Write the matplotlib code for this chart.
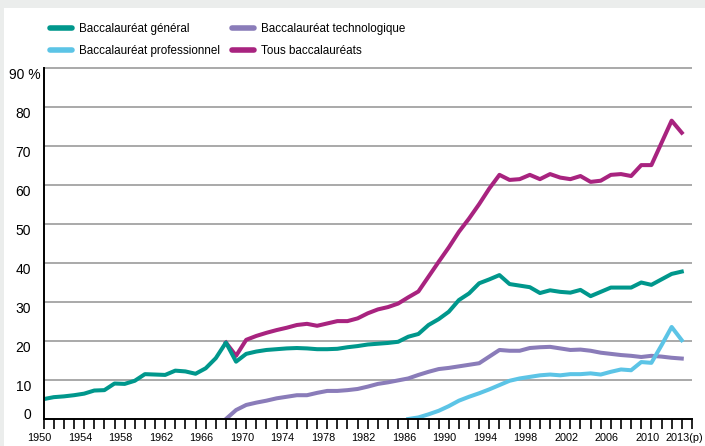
import matplotlib.pyplot as plt
import matplotlib.transforms as mtransforms
from matplotlib.patches import Rectangle
from matplotlib.lines import Line2D
import numpy as np

plt.rcParams['font.family'] = ['Liberation Sans', 'DejaVu Sans']

# taux d'obtention du baccalaureat dans une generation (%)
years = list(range(1950, 2014))

general = [5.1, 5.6, 5.8, 6.1, 6.5, 7.3, 7.4, 9.1, 9.0, 9.8,
           11.5, 11.4, 11.3, 12.4, 12.2, 11.6, 13.0, 15.6, 19.6, 14.7,
           16.7, 17.3, 17.7, 17.9, 18.1, 18.2, 18.1, 17.9, 17.9, 18.0,
           18.4, 18.7, 19.1, 19.3, 19.5, 19.8, 21.1, 21.8, 24.1, 25.6,
           27.5, 30.5, 32.2, 34.8, 35.8, 36.9, 34.6, 34.2, 33.8, 32.3,
           33.0, 32.6, 32.4, 33.1, 31.5, 32.6, 33.7, 33.7, 33.7, 35.0,
           34.4, 35.8, 37.2, 37.8]

techno_years = list(range(1968, 2014))
techno = [0.0, 2.3, 3.6, 4.2, 4.7, 5.3, 5.7, 6.1, 6.1, 6.7,
          7.2, 7.2, 7.4, 7.7, 8.3, 9.0, 9.4, 9.9, 10.4, 11.3,
          12.1, 12.8, 13.1, 13.5, 13.9, 14.3, 16.0, 17.7, 17.5, 17.5,
          18.2, 18.4, 18.5, 18.1, 17.7, 17.8, 17.5, 17.0, 16.7, 16.4,
          16.2, 15.9, 16.2, 16.0, 15.7, 15.5]

pro_years = list(range(1986, 2014))
pro = [0.0, 0.4, 1.2, 2.1, 3.3, 4.7, 5.7, 6.6, 7.6, 8.7,
       9.8, 10.4, 10.8, 11.2, 11.4, 11.2, 11.5, 11.5, 11.7, 11.4,
       12.1, 12.7, 12.5, 14.6, 14.4, 18.9, 23.6, 20.2]

tous_years = list(range(1968, 2014))
tous = [19.6, 16.2, 20.3, 21.3, 22.1, 22.8, 23.4, 24.1, 24.4, 23.9,
        24.5, 25.1, 25.1, 25.8, 27.1, 28.1, 28.7, 29.6, 31.2, 32.7,
        36.5, 40.3, 44.0, 48.0, 51.4, 55.1, 59.1, 62.6, 61.3, 61.5,
        62.6, 61.5, 62.8, 61.9, 61.5, 62.3, 60.8, 61.1, 62.6, 62.8,
        62.3, 65.1, 65.1, 70.8, 76.5, 73.4]

grid_levels = list(range(10, 100, 10))
xticks_lab = list(range(1950, 2011, 4)) + [2013]
xticks_txt = [str(y) for y in range(1950, 2011, 4)] + ['2013(p)']

c_gen = '#00978c'
c_pro = '#5cc4e6'
c_tec = '#8a7cb9'
c_tous = '#a8237f'
c_fond = '#ebedec'

fig = plt.figure(figsize=(7.05, 4.46), dpi=100, facecolor='white')
# bandes grises du cadre (haut et gauche)
fig.patches.append(Rectangle((0, 1 - 8 / 446), 1, 8 / 446, transform=fig.transFigure,
                             facecolor=c_fond, edgecolor='none'))
fig.patches.append(Rectangle((0, 0), 4 / 705, 1, transform=fig.transFigure,
                             facecolor=c_fond, edgecolor='none'))

ax = fig.add_axes([43.6 / 705, 1 - 419 / 446, (691.9 - 43.6) / 705, (419 - 68) / 446])
ax.set_facecolor('none')

lw = 2.9
ax.plot(tous_years, tous, color=c_tous, lw=lw, label='Tous baccalauréats', zorder=4)
ax.plot(techno_years, techno, color=c_tec, lw=lw, label='Baccalauréat technologique', zorder=5)
ax.plot(pro_years, pro, color=c_pro, lw=lw, label='Baccalauréat professionnel', zorder=6)
ax.plot(years, general, color=c_gen, lw=lw, label='Baccalauréat général', zorder=7)

ax.set_xlim(1950, 2014)
ax.set_ylim(0, 90)

# lignes de grille horizontales, posees sur la figure sous le graphique
gtrans = mtransforms.blended_transform_factory(ax.transAxes, ax.transData)
for v in grid_levels:
    fig.add_artist(Line2D([0, 1], [v, v], transform=gtrans, color='#a3a3a3',
                          lw=1.3, zorder=-1, solid_capstyle='butt'))

yt = list(range(0, 100, 10))
ax.set_yticks(yt)
ax.set_yticklabels([str(v) for v in yt[:-1]] + ['90 %'], fontsize=10)
ax.tick_params(axis='y', length=0, pad=9)

for s in ['top', 'right']:
    ax.spines[s].set_visible(False)
for s in ['left', 'bottom']:
    ax.spines[s].set_color('black')
    ax.spines[s].set_linewidth(1.4)
    ax.spines[s].set_zorder(8)

ax.set_xticks(range(1950, 2015), minor=True)
ax.set_xticks(xticks_lab)
ax.set_xticklabels(xticks_txt, fontsize=7.8)
ax.tick_params(axis='x', which='both', direction='out', length=7, width=1.2, color='black', pad=3)

# decalages des etiquettes comme sur l'original
for lab in ax.get_xticklabels():
    dx = -3 / 72
    if lab.get_text() == '2013(p)':
        dx = 2 / 72
    lab.set_transform(lab.get_transform() + mtransforms.ScaledTranslation(dx, 0, fig.dpi_scale_trans))
for lab in ax.get_yticklabels():
    t = lab.get_text()
    dy = -4 / 72
    dx = 0
    if t == '0':
        dy = 4 / 72
    if t == '90 %':
        dx = 7 / 72
    lab.set_transform(lab.get_transform() + mtransforms.ScaledTranslation(dx, dy, fig.dpi_scale_trans))

h, l = ax.get_legend_handles_labels()
order = [3, 2, 1, 0]
leg = fig.legend([h[i] for i in order], [l[i] for i in order], ncol=2, frameon=False,
                 loc='upper left', bbox_to_anchor=(50 / 705, 1 - 23 / 446),
                 borderaxespad=0, borderpad=0, fontsize=8.4, handlelength=1.9,
                 handletextpad=0.6, columnspacing=1.0, labelspacing=0.85)
for line in leg.get_lines():
    line.set_linewidth(4)
    line.set_solid_capstyle('round')

fig.savefig('out.png', dpi=100, facecolor=fig.get_facecolor())
